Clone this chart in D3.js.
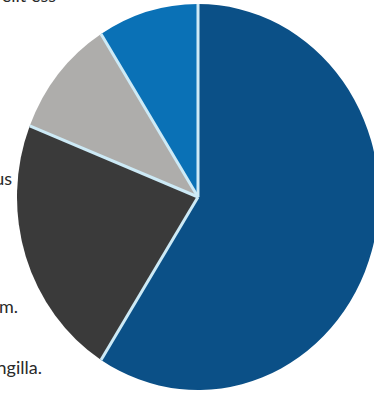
<!DOCTYPE html>
<html><head><meta charset="utf-8">
<script src="https://cdn.jsdelivr.net/npm/d3@7"></script>
<style>html,body{margin:0;padding:0;background:#fff;overflow:hidden}</style>
</head><body>
<svg id="c" width="374" height="393"></svg>
<script>
const categories = ["Segment A", "Segment B", "Segment C", "Segment D"];
const values = [59, 22, 10, 9];
const colors = ["#0b5087", "#3a3a3a", "#aeadab", "#0a71b6"];
const labels = ["adipiscing elit ess", "Vivamus dapibus", "ipsum dolor sit am.", "Aenean fringilla."];

const svg = d3.select("#c");
const cx = 198, cy = 197, rx = 181, ry = 193;

const pie = d3.pie().sort(null).value(d => d.v);
const arc = d3.arc().innerRadius(0).outerRadius(ry);
const data = values.map((v, i) => ({v, c: colors[i], name: categories[i]}));
const arcs = pie(data);

const g = svg.append("g").attr("transform", `translate(${cx},${cy}) scale(${rx/ry},1)`);
g.selectAll("path").data(arcs).join("path")
  .attr("d", arc)
  .attr("fill", d => d.data.c);

g.selectAll("line.sep").data(arcs).join("line")
  .attr("class", "sep")
  .attr("x1", 0).attr("y1", 0)
  .attr("x2", d => Math.sin(d.startAngle) * ry)
  .attr("y2", d => -Math.cos(d.startAngle) * ry)
  .attr("stroke", "#cdeaf6")
  .attr("stroke-width", 3)
  .attr("vector-effect", "non-scaling-stroke");

const labelPos = [[56, 2], [12, 185], [18, 313], [42, 374]];
svg.selectAll("text.lab").data(labels).join("text")
  .attr("class", "lab")
  .attr("x", (d, i) => labelPos[i][0])
  .attr("y", (d, i) => labelPos[i][1])
  .attr("text-anchor", "end")
  .attr("font-family", "Lato, 'Open Sans', sans-serif")
  .attr("font-size", 18)
  .attr("fill", "#2a2a2a")
  .text(d => d);
</script>
</body></html>
